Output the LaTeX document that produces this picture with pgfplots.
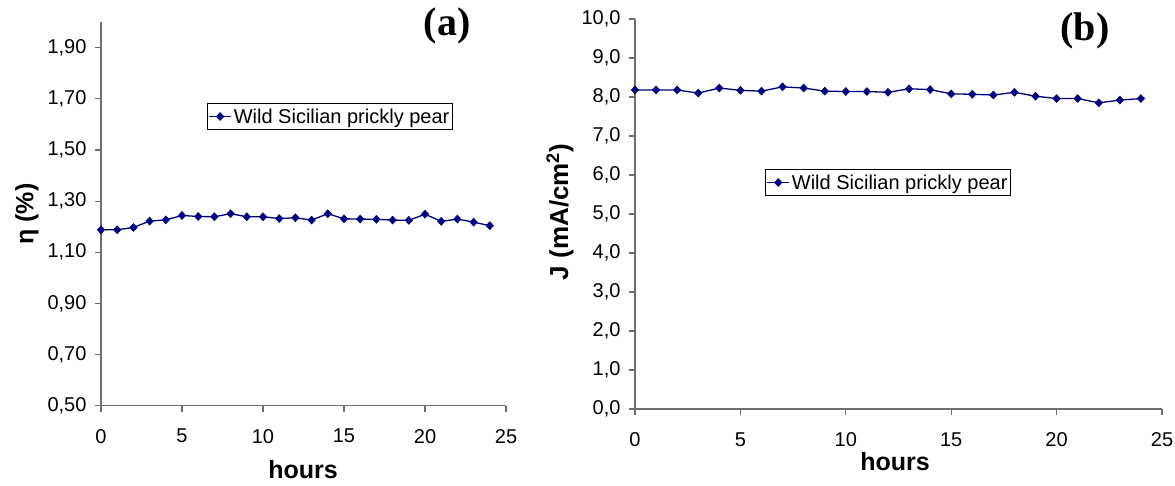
\documentclass[border=0pt]{standalone}
\usepackage{fontspec}
\setmainfont{Liberation Sans}
\newfontfamily\timesfont{Liberation Serif}
\usepackage{pgfplots}
\usepackage{pgfplotstable}
\pgfplotsset{compat=1.18}

\definecolor{navy}{RGB}{0,0,128}
\definecolor{axgray}{RGB}{110,110,110}

% efficiency (a)
\pgfplotstableread{
h eta
0 1.188
1 1.188
2 1.197
3 1.222
4 1.227
5 1.244
6 1.240
7 1.239
8 1.251
9 1.239
10 1.239
11 1.232
12 1.235
13 1.226
14 1.251
15 1.231
16 1.230
17 1.229
18 1.226
19 1.225
20 1.249
21 1.221
22 1.230
23 1.218
24 1.204
}\etatable

% current density (b)
\pgfplotstableread{
h J
0 8.18
1 8.18
2 8.18
3 8.10
4 8.23
5 8.17
6 8.15
7 8.26
8 8.23
9 8.15
10 8.14
11 8.14
12 8.12
13 8.21
14 8.19
15 8.08
16 8.07
17 8.05
18 8.12
19 8.02
20 7.96
21 7.96
22 7.85
23 7.92
24 7.96
}\Jtable

\pgfplotsset{
  panel/.style={
    scale only axis,
    axis x line*=bottom,
    axis y line*=left,
    axis line style={axgray, line width=1.2pt, -},
    tick style={axgray, line width=1.2pt},
    tick align=outside,
    major tick length=6pt,
    xmin=0, xmax=25,
    xtick={0,5,...,25},
    ticklabel style={font=\fontsize{20}{23}\selectfont},
    /pgf/number format/assume math mode=true,
    xticklabel style={yshift=-14pt},
    yticklabel style={xshift=-5pt},
    legend cell align=left,
    legend style={draw=black, line width=0.8pt, inner xsep=1pt, inner ysep=3pt,
      font=\fontsize{20}{23}\selectfont, anchor=north west},
    legend image code/.code={
      \draw[mark repeat=2, mark phase=2] plot coordinates {(0pt,0pt) (11pt,0pt) (22pt,0pt)};
    },
  },
  ser/.style={navy, line width=1.3pt, mark=diamond*, mark size=4pt,
    mark options={fill=navy, draw=navy, line width=0.5pt, xscale=1.25}},
}

\begin{document}
\begin{tikzpicture}[x=1pt, y=1pt]
\useasboundingbox (0,0) rectangle (1175,486);

\begin{axis}[panel,
  at={(101pt,80.3pt)}, anchor=origin,
  width=405pt, height=383.5pt,
  ymin=0.5, ymax=2.0,
  ytick={0.5,0.7,...,1.95},
  yticklabel style={/pgf/number format/.cd, fixed, fixed zerofill, precision=2, use comma},
  legend style={at={(0.262,0.789)}},
]
\addplot[ser] table[x=h, y=eta] {\etatable};
\addlegendentry{Wild Sicilian prickly pear}
\end{axis}

\begin{axis}[panel,
  at={(635pt,77pt)}, anchor=origin,
  width=527pt, height=390pt,
  ymin=0, ymax=10,
  ytick={0,1,...,10},
  yticklabel style={/pgf/number format/.cd, fixed, fixed zerofill, precision=1, use comma},
  legend style={at={(0.247,0.615)}},
]
\addplot[ser] table[x=h, y=J] {\Jtable};
\addlegendentry{Wild Sicilian prickly pear}
\end{axis}

% axis titles and panel letters
\node[font=\fontsize{25}{28}\selectfont\bfseries] at (303,16) {hours};
\node[font=\fontsize{25}{28}\selectfont\bfseries] at (895,24) {hours};
\node[font=\fontsize{25}{28}\selectfont\bfseries, rotate=90] at (27,272) {η (\%)};
\node[font=\fontsize{26}{29}\selectfont\bfseries, rotate=90] at (560,274) {J (mA/cm\textsuperscript{2})};
\node[font=\fontsize{40}{44}\selectfont\timesfont\bfseries] at (447,460) {(a)};
\node[font=\fontsize{40}{44}\selectfont\timesfont\bfseries] at (1085,455) {(b)};
\end{tikzpicture}
\end{document}
